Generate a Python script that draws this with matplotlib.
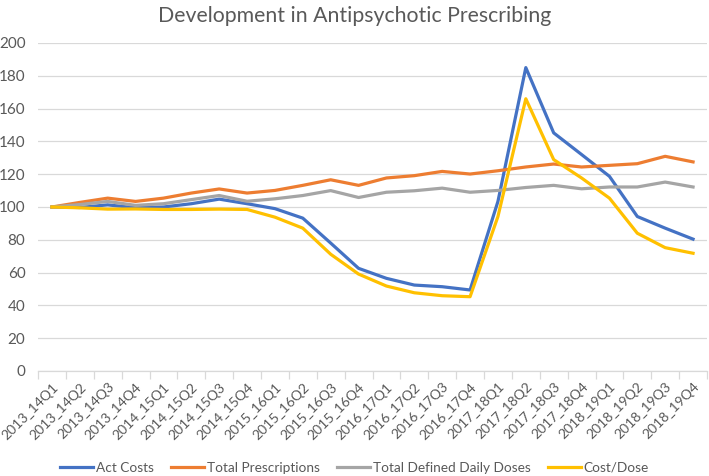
import matplotlib
matplotlib.use("Agg")
import matplotlib.pyplot as plt
from matplotlib.ticker import FixedLocator, NullFormatter

plt.rcParams['font.family'] = ['Lato', 'DejaVu Sans']

categories = []
for yr in range(2013, 2019):
    for q in range(1, 5):
        categories.append(f"{yr}_{str(yr + 1)[2:]}Q{q}")

act_costs = [100, 99.7, 101.3, 99.5, 100, 102, 104.8, 102, 99, 93.2, 78, 62.6,
             56.5, 52.4, 51.4, 49.4, 103.4, 185, 145.2, 132, 118.7, 94.2, 87.1, 80.4]
total_prescriptions = [100, 102.8, 105.4, 103.4, 105.4, 108.5, 111, 108.5, 110.1, 113.2, 116.6, 113.2,
                       117.7, 119.1, 121.7, 120.1, 122.1, 124.4, 126.2, 124.4, 125.4, 126.4, 130.9, 127.5]
total_ddd = [100, 101.5, 103.4, 101, 102, 104.5, 107, 103.5, 105, 107, 110, 105.8,
             109, 109.9, 111.5, 109, 110.1, 111.9, 113.2, 111.1, 112.2, 112.2, 115.2, 112.2]
cost_per_dose = [100, 99.5, 98.7, 98.8, 98.5, 98.5, 98.7, 98.5, 93.8, 87.1, 71.2, 59.1,
                 51.8, 47.7, 45.9, 45.3, 94.2, 166, 128.9, 117.7, 105.4, 84, 75.2, 71.8]

series = [
    ("Act Costs", act_costs, "#4472C4"),
    ("Total Prescriptions", total_prescriptions, "#ED7D31"),
    ("Total Defined Daily Doses", total_ddd, "#A5A5A5"),
    ("Cost/Dose", cost_per_dose, "#FFC000"),
]

txt = "#595959"
fig = plt.figure(figsize=(7.09, 4.76), dpi=100)
ax = fig.add_axes([38 / 709, 1 - 371 / 476, (707 - 38) / 709, (371 - 43) / 476])

x = list(range(len(categories)))
for name, vals, col in series:
    ax.plot(x, vals, color=col, lw=2.3, label=name, solid_joinstyle='round', zorder=3)

ax.set_ylim(0, 200)
ax.set_xlim(-0.5, len(categories) - 0.5)
ax.set_yticks(range(0, 201, 20))
ax.yaxis.grid(True, color="#D9D9D9", lw=0.9, zorder=0)
ax.tick_params(axis='y', length=0, labelsize=11, labelcolor=txt, pad=9)
for s in ["top", "right", "left"]:
    ax.spines[s].set_visible(False)
ax.spines["bottom"].set_color("#D9D9D9")
ax.spines["bottom"].set_linewidth(0.9)

ax.set_xticks(x)
ax.set_xticklabels(categories, rotation=45, ha='right', rotation_mode='anchor',
                   fontsize=10, color=txt)
ax.tick_params(axis='x', which='major', length=0, pad=7)
ax.xaxis.set_minor_locator(FixedLocator([i - 0.5 for i in range(len(categories) + 1)]))
ax.xaxis.set_minor_formatter(NullFormatter())
ax.tick_params(axis='x', which='minor', length=6, color="#D9D9D9", width=0.9)

fig.text(0.5, 1 - 16 / 476, "Development in Antipsychotic Prescribing", ha='center', va='center',
         fontsize=15.3, color=txt)

fig.legend(loc='center', bbox_to_anchor=(0.5, 1 - 468 / 476), ncol=4, frameon=False,
           fontsize=9.8, labelcolor=txt, handlelength=2.4, handletextpad=0.2, columnspacing=1.3)

fig.savefig("out.png", dpi=100)
